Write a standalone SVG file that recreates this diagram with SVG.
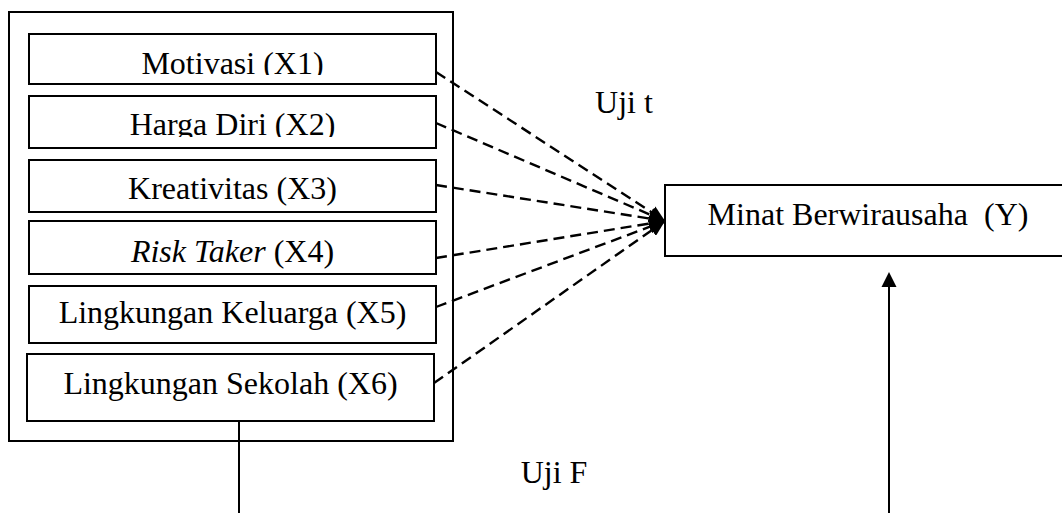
<svg xmlns="http://www.w3.org/2000/svg" width="1062" height="513" viewBox="0 0 1062 513">
<style>
  .box { fill: #fff; stroke: #000; stroke-width: 2; }
  .lbl { font-family: "Liberation Serif", "Times New Roman", serif; font-size: 32px; fill: #000; text-anchor: middle; }
  .dash { stroke: #000; stroke-width: 2.4; stroke-dasharray: 11 6; fill: none; marker-end: url(#ah); }
  .solid { stroke: #000; stroke-width: 2; fill: none; }
</style>
<defs>
  <marker id="ah" markerUnits="userSpaceOnUse" markerWidth="18" markerHeight="14" refX="16" refY="7" orient="auto">
    <path d="M0,0 L16,7 L0,14 Z" fill="#000"/>
  </marker>
  <clipPath id="c1"><rect x="29" y="34" width="407" height="41"/></clipPath>
  <clipPath id="c2"><rect x="29" y="96" width="407" height="41"/></clipPath>
</defs>
<rect width="1062" height="513" fill="#fff"/>
<g id="outer"><rect class="box" x="9" y="12" width="444" height="429"/></g>
<g id="x1"><rect class="box" x="29" y="34" width="407" height="50"/><text class="lbl" x="232.5" y="74" clip-path="url(#c1)">Motivasi (X1)</text></g>
<g id="x2"><rect class="box" x="29" y="96" width="407" height="52"/><text class="lbl" x="232.5" y="135" clip-path="url(#c2)">Harga Diri (X2)</text></g>
<g id="x3"><rect class="box" x="29" y="160" width="407" height="52"/><text class="lbl" x="232.5" y="199">Kreativitas (X3)</text></g>
<g id="x4"><rect class="box" x="29" y="221" width="407" height="53"/><text class="lbl" x="232.5" y="262"><tspan font-style="italic">Risk Taker</tspan> (X4)</text></g>
<g id="x5"><rect class="box" x="29" y="286" width="407" height="57"/><text class="lbl" x="232.5" y="323">Lingkungan Keluarga (X5)</text></g>
<g id="x6"><rect class="box" x="27" y="354" width="407" height="67"/><text class="lbl" x="230.5" y="394">Lingkungan Sekolah (X6)</text></g>
<g id="y"><rect class="box" x="665" y="185" width="420" height="71"/><text class="lbl" x="868" y="225" xml:space="preserve">Minat Berwirausaha  (Y)</text></g>
<g id="labels">
  <text class="lbl" x="624" y="113">Uji t</text>
  <text class="lbl" x="554" y="483">Uji F</text>
</g>
<g id="connectors">
  <line class="dash" x1="436" y1="72" x2="665" y2="221"/>
  <line class="dash" x1="436" y1="123" x2="665" y2="221"/>
  <line class="dash" x1="436" y1="185" x2="665" y2="221"/>
  <line class="dash" x1="436" y1="258" x2="665" y2="221"/>
  <line class="dash" x1="436" y1="307" x2="665" y2="221"/>
  <line class="dash" x1="434" y1="383" x2="665" y2="221"/>
  <line class="solid" x1="239" y1="421" x2="239" y2="513"/>
  <line class="solid" x1="889" y1="513" x2="889" y2="284"/>
  <path d="M881.5,287 L889,272 L896.5,287 Z" fill="#000"/>
</g>
</svg>
